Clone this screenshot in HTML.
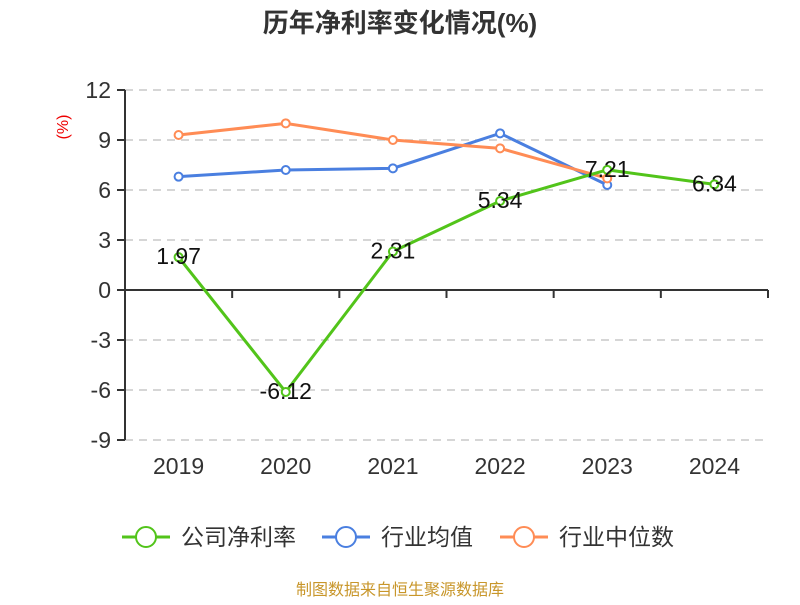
<!DOCTYPE html>
<html><head><meta charset="utf-8"><style>
body{margin:0;background:#fff;font-family:"Liberation Sans","Noto Sans CJK SC",sans-serif;}
</style></head><body>
<svg id="c" width="800" height="600" xmlns="http://www.w3.org/2000/svg" style="font-family:'Liberation Sans','Noto Sans CJK SC',sans-serif">
<text x="400" y="32" text-anchor="middle" font-size="26" font-weight="bold" fill="#333">历年净利率变化情况(%)</text>
<text x="0" y="0" transform="translate(68,127) rotate(-90)" text-anchor="middle" font-size="16" fill="#e00">(%)</text>
<g id="grid"></g><g id="axes"></g><g id="series"></g>
<g font-size="23" fill="#333">
<g><line x1="122" y1="537" x2="170" y2="537" stroke="#52c41a" stroke-width="3"/><circle cx="146" cy="537" r="10" fill="#fff" stroke="#52c41a" stroke-width="2"/><text x="181" y="545">公司净利率</text></g>
<g><line x1="322" y1="537" x2="370" y2="537" stroke="#4a7fe0" stroke-width="3"/><circle cx="346" cy="537" r="10" fill="#fff" stroke="#4a7fe0" stroke-width="2"/><text x="381" y="545">行业均值</text></g>
<g><line x1="500" y1="537" x2="548" y2="537" stroke="#ff8c55" stroke-width="3"/><circle cx="524" cy="537" r="10" fill="#fff" stroke="#ff8c55" stroke-width="2"/><text x="559" y="545">行业中位数</text></g>
</g>
<text x="400" y="595" text-anchor="middle" font-size="16" fill="#c8962a">制图数据来自恒生聚源数据库</text>
</svg>
<script>
const categories=["2019","2020","2021","2022","2023","2024"];
const company=[1.97,-6.12,2.31,5.34,7.21,6.34];
const industryAvg=[6.8,7.2,7.3,9.4,6.3];
const industryMedian=[9.3,10.0,9.0,8.5,6.7];
const yTicks=[12,9,6,3,0,-3,-6,-9];
const NS="http://www.w3.org/2000/svg";
const L=125,R=768,T=90,B=440,yMax=12,yMin=-9;
const bw=(R-L)/categories.length;
const xs=i=>L+bw*(i+0.5);
const ys=v=>T+(yMax-v)/(yMax-yMin)*(B-T);
function mk(t,a,p){const e=document.createElementNS(NS,t);for(const k in a)e.setAttribute(k,a[k]);p.appendChild(e);return e;}
const grid=document.getElementById('grid'),axes=document.getElementById('axes'),ser=document.getElementById('series');
yTicks.forEach(v=>{const y=ys(v);
 if(v!==0){const g=mk('line',{x1:L,x2:R,y1:y,y2:y,stroke:'#c8c8c8','stroke-width':1.5,'stroke-dasharray':'8,6'},grid);
 }
 mk('line',{x1:L-8,x2:L,y1:y,y2:y,stroke:'#333','stroke-width':2},axes);
 const t=mk('text',{x:L-14,y:y+8,'text-anchor':'end','font-size':23,fill:'#333'},axes);t.textContent=v;
 });
mk('line',{x1:L,x2:L,y1:T,y2:B,stroke:'#333','stroke-width':2},axes);
const y0=ys(0);
const xa=mk('line',{x1:L,x2:R,y1:y0,y2:y0,stroke:'#333','stroke-width':2},axes);

for(let i=0;i<=categories.length;i++){const x=L+bw*i;mk('line',{x1:x,x2:x,y1:y0,y2:y0+8,stroke:'#333','stroke-width':2},axes);}
categories.forEach((c,i)=>{const t=mk('text',{x:xs(i),y:474,'text-anchor':'middle','font-size':23,fill:'#333'},axes);t.textContent=c;
 });
function line(data,color,name,labels){
 const g=mk('g',{},ser);
 const p=mk('polyline',{points:data.map((v,i)=>xs(i)+','+ys(v)).join(' '),fill:'none',stroke:color,'stroke-width':3},g);
 
 data.forEach((v,i)=>{const c=mk('circle',{cx:xs(i),cy:ys(v),r:4,fill:'#fff',stroke:color,'stroke-width':2},g);
  
  if(labels){const t=mk('text',{x:xs(i),y:ys(v)+7,'text-anchor':'middle','font-size':23,fill:'#111'},g);t.textContent=v.toFixed(2);
   }});
}
line(industryAvg,'#4a7fe0','industry-avg-series',false);
line(industryMedian,'#ff8c55','industry-median-series',false);
line(company,'#52c41a','company-series',true);
</script>
</body></html>
